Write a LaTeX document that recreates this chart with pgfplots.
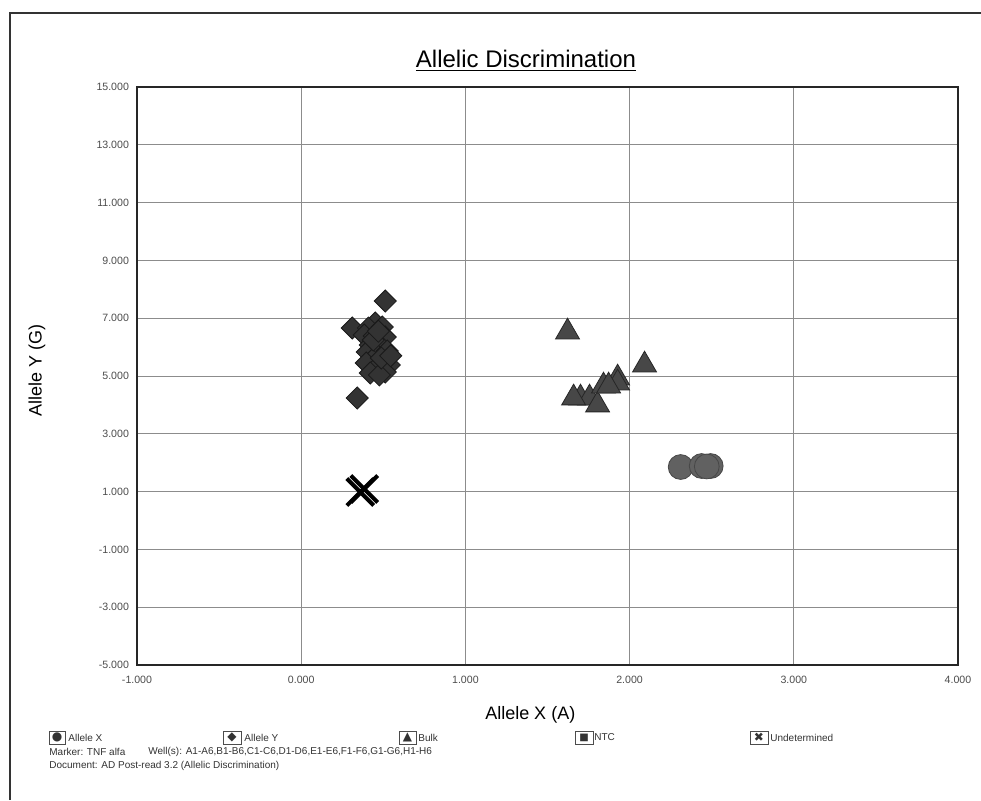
\documentclass[border=0pt]{standalone}
\usepackage{pgfplots}
\pgfplotsset{compat=1.18}
\usepackage{fontspec}
\setmainfont{Liberation Sans}
\newfontfamily\dv{DejaVu Sans}

\begin{document}
\begin{tikzpicture}
\path[use as bounding box, fill=white] (0,0) rectangle (490.5pt,-400pt);
\draw[line width=1pt, black!80] (5pt,-400pt) -- (5pt,-6.5pt) -- (490.5pt,-6.5pt);
\begin{axis}[
  at={(68.5pt,-332.5pt)}, anchor=south west,
  scale only axis, width=410.5pt, height=289pt,
  xmin=-1, xmax=4, ymin=-5, ymax=15,
  xtick={-1,0,1,2,3,4}, ytick={-5,-3,-1,1,3,5,7,9,11,13,15},
  grid=major, grid style={black!45, line width=0.5pt},
  axis line style={line width=1.3pt, black!85},
  major tick style={draw=none},
  xticklabel style={font=\fontsize{5.3}{6}\selectfont, text=black!70, yshift=-2pt,
    /pgf/number format/.cd, fixed, fixed zerofill, precision=3, 1000 sep={}, assume math mode=true},
  yticklabel style={font=\fontsize{5.3}{6}\selectfont, text=black!70, xshift=-0.5pt,
    /pgf/number format/.cd, fixed, fixed zerofill, precision=3, 1000 sep={}, assume math mode=true},
  xlabel={Allele X (A)},
  xlabel style={font=\fontsize{9}{10}\selectfont, at={(rel axis cs:0.479,-0.086)}, anchor=center},
  ylabel={Allele Y (G)},
  ylabel style={font=\fontsize{9}{10}\selectfont, at={(rel axis cs:-0.122,0.51)}, anchor=center, rotate=0},
  clip=false,
]
% Allele Y (diamonds)
\addplot[only marks, mark=square*, mark size=3.9pt,
  mark options={rotate=45, fill=black!80, draw=black!90, line width=0.4pt}]
coordinates {
(0.512,7.595) (0.311,6.661) (0.341,4.239)
(0.451,6.834) (0.409,6.661) (0.494,6.696) (0.384,6.419) (0.445,6.384)
(0.512,6.349) (0.421,6.073) (0.482,6.038) (0.402,5.830) (0.463,5.727)
(0.524,5.865) (0.433,5.554) (0.500,5.484) (0.396,5.450) (0.537,5.381)
(0.457,5.277) (0.512,5.138) (0.421,5.104) (0.476,5.035) (0.439,6.246)
(0.488,5.623) (0.545,5.700) (0.470,6.550)
};
% Bulk (triangles)
\addplot[only marks, mark=triangle*, mark size=6.9pt,
  mark options={fill=black!72, draw=black!85, line width=0.4pt}]
coordinates {
(1.622,6.522) (2.091,5.381) (1.701,4.239) (1.756,4.239) (1.805,3.997)
(1.841,4.654) (1.927,4.931) (1.927,4.758) (1.872,4.654) (1.659,4.240)
};
% Allele X (circles)
\addplot[only marks, mark=*, mark size=6.2pt,
  mark options={fill=black!62, draw=black!72, line width=0.4pt}]
coordinates {
(2.311,1.851) (2.439,1.886) (2.494,1.886) (2.470,1.870)
};
% Undetermined (crosses)
\addplot[only marks, mark=x, mark size=9.5pt,
  mark options={draw=black, line width=2pt}]
coordinates {
(0.360,0.986) (0.384,1.090)
};
\end{axis}
\begin{scope}[x=0.5pt, y=-0.5pt, every node/.style={font=\fontsize{5}{6}\selectfont, text=black!80, inner sep=0pt}]
  \node[font=\fontsize{12}{14}\selectfont, text=black] at (526,61) {\underline{Allelic Discrimination}};
  % legend row
  \draw[black!70, line width=0.5pt] (49,731) rectangle (65,744);
  \node at (57,737.5) {\dv\fontsize{6}{6}\selectfont ●};
  \node[anchor=west] at (68,737.5) {Allele X};
  \draw[black!70, line width=0.5pt] (223,731) rectangle (241,744);
  \node at (232,737.5) {\dv\fontsize{6}{6}\selectfont ◆};
  \node[anchor=west] at (244,737.5) {Allele Y};
  \draw[black!70, line width=0.5pt] (399,731) rectangle (416,744);
  \node at (407.5,737.5) {\dv\fontsize{6}{6}\selectfont ▲};
  \node[anchor=west] at (418,737.5) {Bulk};
  \draw[black!70, line width=0.5pt] (575,731) rectangle (593,744);
  \node at (584,737.5) {\dv\fontsize{5}{6}\selectfont ■};
  \node[anchor=west] at (594,737.5) {NTC};
  \draw[black!70, line width=0.5pt] (750,731) rectangle (768,744);
  \node at (759,737.5) {\dv\fontsize{6}{6}\selectfont ✖};
  \node[anchor=west] at (770,737.5) {Undetermined};
  \node[anchor=west] at (49,752) {Marker: TNF alfa};
  \node[anchor=west] at (148,752) {Well(s): A1-A6,B1-B6,C1-C6,D1-D6,E1-E6,F1-F6,G1-G6,H1-H6};
  \node[anchor=west] at (49,766) {Document: AD Post-read 3.2 (Allelic Discrimination)};
\end{scope}
\end{tikzpicture}
\end{document}
